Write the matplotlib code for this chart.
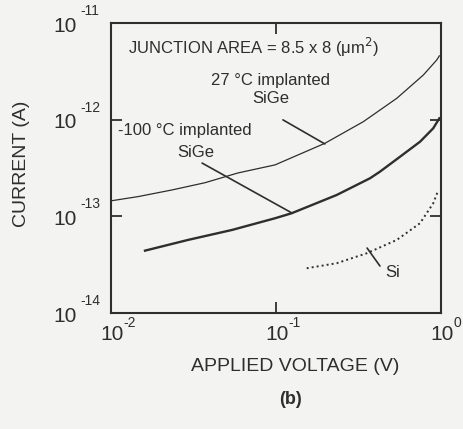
import numpy as np
import matplotlib
matplotlib.use("Agg")
import matplotlib.pyplot as plt
from matplotlib import transforms

plt.rcParams["font.family"] = ["Liberation Sans", "DejaVu Sans"]

INK = "#2e2e2e"
PAPER = "#f3f3f1"

# values, log10 of volts / amps
logv_27 = [-1.994, -1.836, -1.630, -1.430, -1.230, -1.006, -0.703, -0.471, -0.268, -0.107, -0.026, -0.010]
logi_27 = [-12.838, -12.796, -12.727, -12.652, -12.551, -12.468, -12.244, -12.021, -11.779, -11.538, -11.383, -11.34]

logv_m100 = [-1.794, -1.533, -1.267, -1.006, -0.905, -0.632, -0.430, -0.370, -0.248, -0.127, -0.047, -0.010]
logi_m100 = [-13.355, -13.244, -13.141, -13.020, -12.968, -12.779, -12.606, -12.538, -12.383, -12.228, -12.089, -11.986]

logv_si = [-0.814, -0.632, -0.450, -0.268, -0.127, -0.047, -0.016]
logi_si = [-13.537, -13.485, -13.382, -13.244, -13.071, -12.865, -12.727]

xticks = [1e-2, 1e-1, 1e0]
xexp = ["-2", "-1", "0"]
yticks = [1e-14, 1e-13, 1e-12, 1e-11]
yexp = ["-14", "-13", "-12", "-11"]

fig = plt.figure(figsize=(4.63, 4.29), dpi=100, facecolor=PAPER)
ax = fig.add_axes([111 / 463, 1 - 313 / 429, 330 / 463, 290 / 429])
ax.set_facecolor(PAPER)
ax.set_xscale("log")
ax.set_yscale("log")
ax.set_xlim(1e-2, 1e0)
ax.set_ylim(1e-14, 1e-11)

ax.plot(10 ** np.array(logv_27), 10 ** np.array(logi_27), color=INK, lw=0.9)
ax.plot(10 ** np.array(logv_m100), 10 ** np.array(logi_m100), color=INK, lw=1.7)
ax.plot(10 ** np.array(logv_si), 10 ** np.array(logi_si), color=INK, lw=1.4,
        linestyle=(0, (1, 1.6)))

for s in ax.spines.values():
    s.set_linewidth(1.5)
    s.set_color(INK)

ax.set_xticks(xticks)
ax.set_yticks(yticks)
ax.xaxis.set_minor_locator(matplotlib.ticker.NullLocator())
ax.yaxis.set_minor_locator(matplotlib.ticker.NullLocator())
ax.tick_params(which="major", direction="in", length=8, width=1.3, color=INK,
               top=True, right=True, labelbottom=False, labelleft=False)

# tick labels built by hand: big "10", small exponent set off to the right
ytr = ax.get_yaxis_transform()
for v, e in zip(yticks, yexp):
    t10 = transforms.offset_copy(ytr, fig=fig, x=-34, y=-3, units="dots")
    tex = transforms.offset_copy(ytr, fig=fig, x=-31, y=12, units="dots")
    ax.text(0, v, "10", transform=t10, ha="right", va="center", fontsize=15,
            color=INK, clip_on=False)
    ax.text(0, v, e, transform=tex, ha="left", va="center", fontsize=10,
            color=INK, clip_on=False)

xtr = ax.get_xaxis_transform()
for v, e in zip(xticks, xexp):
    t10 = transforms.offset_copy(xtr, fig=fig, x=1, y=-22, units="dots")
    tex = transforms.offset_copy(xtr, fig=fig, x=12, y=-10, units="dots")
    ax.text(v, 0, "10", transform=t10, ha="center", va="center", fontsize=15,
            color=INK, clip_on=False)
    ax.text(v, 0, e, transform=tex, ha="left", va="center", fontsize=10,
            color=INK, clip_on=False)

ax.set_xlabel("APPLIED VOLTAGE (V)", fontsize=14, color=INK, va="center")
ax.xaxis.set_label_coords(0.558, -0.186)
ax.set_ylabel("CURRENT (A)", fontsize=14, color=INK, va="center")
ax.yaxis.set_label_coords(-0.27, 0.514)

ax.text(0.052, 0.914, "JUNCTION AREA = 8.5 x 8 (\u03bcm$^2$)", transform=ax.transAxes,
        ha="left", va="center", fontsize=12, color=INK)
ax.text(0.482, 0.803, "27 \u00b0C implanted", transform=ax.transAxes,
        ha="center", va="center", fontsize=12, color=INK)
ax.text(0.485, 0.738, "SiGe", transform=ax.transAxes,
        ha="center", va="center", fontsize=12, color=INK)
ax.text(0.021, 0.628, "-100 \u00b0C implanted", transform=ax.transAxes,
        ha="left", va="center", fontsize=12, color=INK)
ax.text(0.258, 0.552, "SiGe", transform=ax.transAxes,
        ha="center", va="center", fontsize=12, color=INK)
ax.text(0.852, 0.141, "Si", transform=ax.transAxes,
        ha="center", va="center", fontsize=12, color=INK)

lead = dict(arrowstyle="-", color=INK, lw=1.2, shrinkA=0, shrinkB=0)
ax.annotate("", xy=(0.648, 0.583), xytext=(0.521, 0.666), xycoords="axes fraction",
            arrowprops=lead)
ax.annotate("", xy=(0.548, 0.345), xytext=(0.276, 0.517), xycoords="axes fraction",
            arrowprops=lead)
ax.annotate("", xy=(0.815, 0.162), xytext=(0.776, 0.224), xycoords="axes fraction",
            arrowprops=lead)

fig.text(290 / 463, 1 - 400 / 429, "(b)", ha="center", va="center", fontsize=13,
         fontweight="bold", color=INK)

fig.savefig("out.png", dpi=100, facecolor=PAPER)
